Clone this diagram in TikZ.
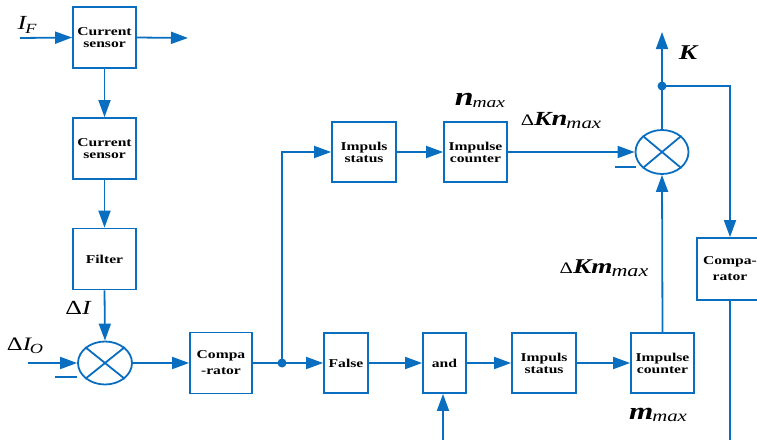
\documentclass[tikz,border=0pt]{standalone}
\usepackage{fontspec}
\setmainfont{Liberation Serif}[FakeStretch=1.3]
\usetikzlibrary{arrows.meta,shapes.geometric}
\definecolor{lb}{HTML}{0A6EC0}
\newcommand\fsz[1]{\fontsize{#1}{#1}\selectfont}
\tikzset{
  ln/.style={draw=lb, line width=1.8pt},
  arr/.style={ln, -{Triangle[length=17pt,width=12pt]}},
  blk/.style={ln, rectangle, minimum width=63pt, minimum height=61pt, inner sep=0pt,
     align=center, font=\fsz{12}\bfseries, text=black},
  summ/.style={ln, ellipse, minimum width=54pt, minimum height=43pt, inner sep=0pt},
  jdot/.style={circle, fill=lb, inner sep=0pt, minimum size=9pt},
  lbl/.style={inner sep=0pt, text=black},
}
\begin{document}
\begin{tikzpicture}[x=1pt,y=-1pt]
\useasboundingbox (0,0) rectangle (757,439);
% blocks
\node[blk] (cs1) at (104.5,37.5) {Current\\[0pt]sensor};
\node[blk] (cs2) at (104.5,148.5) {Current\\[0pt]sensor};
\node[blk] (filt) at (104.5,259) {Filter};
\node[summ] (sum1) at (105,363) {};
\node[blk, minimum width=62pt] (comp1) at (221,363) {Compa\\[4pt]-rator};
\node[jdot] (dot1) at (282,363) {};
\node[blk, minimum width=64pt, minimum height=60pt] (ist1) at (364,152) {Impuls\\[0pt]status};
\node[blk, minimum height=60pt] (icn1) at (475.5,152) {Impulse\\[0pt]counter};
\node[summ, minimum width=53pt, minimum height=44pt] (sum2) at (662,152) {};
\node[jdot] (dot2) at (662,86) {};
\node[blk, minimum width=66pt, minimum height=62pt] (comp2) at (730,269) {Compa-\\[4pt]rator};
\node[blk, minimum width=44pt, minimum height=60pt] (fals) at (346,363) {False};
\node[blk, minimum width=43pt, minimum height=60pt] (andb) at (444.5,363) {and};
\node[blk, minimum width=64pt, minimum height=60pt] (ist2) at (544,363) {Impuls\\[0pt]status};
\node[blk, minimum height=60pt] (icn2) at (662.5,363) {Impulse\\[0pt]counter};
% crosses in summers
\draw[ln] (sum1.north east) -- (sum1.south west);
\draw[ln] (sum1.north west) -- (sum1.south east);
\draw[ln] (sum2.north east) -- (sum2.south west);
\draw[ln] (sum2.north west) -- (sum2.south east);
% free ends
\coordinate (ifin) at (20,38);
\coordinate (ifout) at (188,38);
\coordinate (dio) at (28,363);
\coordinate (m1a) at (55,377);
\coordinate (m1b) at (77,377);
\coordinate (m2a) at (615,167);
\coordinate (m2b) at (636,167);
\coordinate (andin) at (443,440);
\coordinate (ktop) at (662,32);
\coordinate (cmpbot) at (730,440);
% connectors
\draw[arr] (ifin) -- (cs1.west);
\draw[arr] (cs1.east) -- (ifout);
\draw[arr] (cs1.south) -- (cs2.north);
\draw[arr] (cs2.south) -- (filt.north);
\draw[arr] (filt.south) -- (sum1.north);
\draw[arr] (dio) -- (sum1.west);
\draw[ln] (m1a) -- (m1b);
\draw[arr] (sum1.east) -- (comp1.west);
\draw[ln] (comp1.east) -- (dot1.center);
\draw[arr] (dot1.center) -- (fals.west);
\draw[arr] (dot1.center) |- (ist1.west);
\draw[arr] (ist1.east) -- (icn1.west);
\draw[arr] (icn1.east) -- (sum2.west);
\draw[ln] (m2a) -- (m2b);
\draw[arr] (fals.east) -- (andb.west);
\draw[arr] (andb.east) -- (ist2.west);
\draw[arr] (ist2.east) -- (icn2.west);
\draw[arr] (andin) -- (andb.south -| andin);
\draw[arr] (icn2.north) -- (sum2.south);
\draw[ln] (sum2.north) -- (dot2.center);
\draw[arr] (dot2.center) -- (ktop);
\draw[arr] (dot2.center) -| (comp2.north);
\draw[ln] (comp2.south) -- (cmpbot);
% labels
\node[lbl] (lif) at (27,25) {\fsz{20}\itshape I\hspace{-1pt}\raisebox{-4pt}{\fsz{14}F}};
\node[lbl] (ldi) at (78,308) {\fsz{20}Δ\itshape I};
\node[lbl] (ldio) at (25,346) {\fsz{19}Δ\itshape I\hspace{-1pt}\raisebox{-3pt}{\fsz{14}O}};
\node[lbl] (lnmax) at (480,100) {\fsz{26}\bfseries\itshape n\hspace{-1pt}\raisebox{-2pt}{\fsz{15}\mdseries max}};
\node[lbl] (ldkn) at (561,121) {\fsz{16}Δ\fsz{20}\bfseries\itshape K\fsz{22}n\hspace{-1pt}\raisebox{-3pt}{\fsz{16}\mdseries max}};
\node[lbl] (lk) at (688,53) {\fsz{21}\bfseries\itshape K};
\node[lbl] (ldkm) at (604,268) {\fsz{16}Δ\fsz{21}\bfseries\itshape Km\hspace{-1pt}\raisebox{-3pt}{\fsz{17}\mdseries max}};
\node[lbl] (lmmax) at (658,415) {\fsz{24}\bfseries\itshape m\hspace{-1pt}\raisebox{-2pt}{\fsz{16}\mdseries max}};
\end{tikzpicture}
\end{document}
